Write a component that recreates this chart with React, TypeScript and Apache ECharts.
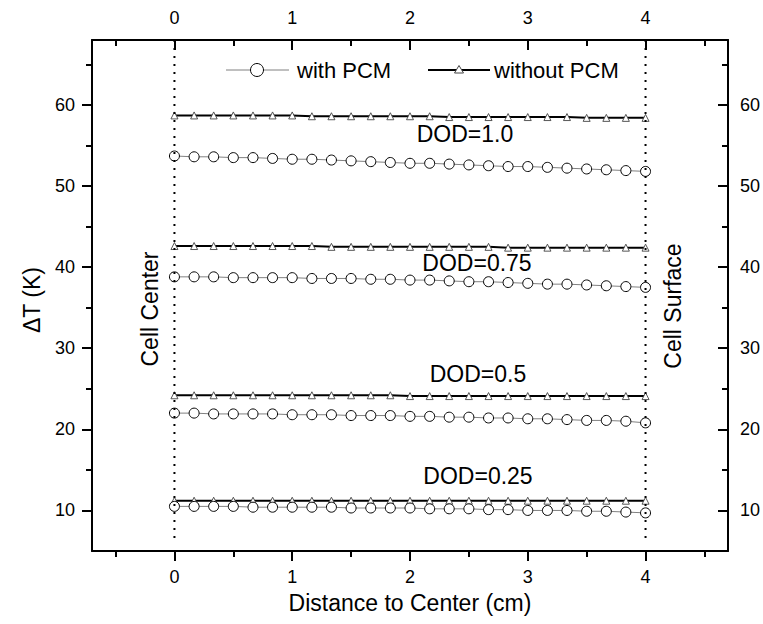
import { useEffect, useRef } from "react";
import * as echarts from "echarts";

const distance = [0, 0.167, 0.333, 0.5, 0.667, 0.833, 1, 1.167, 1.333, 1.5, 1.667, 1.833, 2, 2.167, 2.333, 2.5, 2.667, 2.833, 3, 3.167, 3.333, 3.5, 3.667, 3.833, 4];

const withPCM_100 = [53.7, 53.6, 53.6, 53.5, 53.5, 53.4, 53.3, 53.3, 53.2, 53.1, 53.0, 52.9, 52.8, 52.8, 52.7, 52.6, 52.5, 52.4, 52.4, 52.3, 52.2, 52.1, 52.0, 51.9, 51.8];
const withoutPCM_100 = [58.7, 58.7, 58.7, 58.7, 58.7, 58.7, 58.7, 58.6, 58.6, 58.6, 58.6, 58.6, 58.6, 58.6, 58.5, 58.5, 58.5, 58.5, 58.5, 58.5, 58.5, 58.4, 58.4, 58.4, 58.4];
const withPCM_075 = [38.8, 38.8, 38.8, 38.7, 38.7, 38.7, 38.7, 38.6, 38.6, 38.6, 38.5, 38.5, 38.4, 38.4, 38.3, 38.2, 38.2, 38.1, 38.0, 37.9, 37.9, 37.8, 37.7, 37.6, 37.5];
const withoutPCM_075 = [42.6, 42.6, 42.6, 42.6, 42.6, 42.6, 42.6, 42.6, 42.5, 42.5, 42.5, 42.5, 42.5, 42.5, 42.5, 42.5, 42.5, 42.4, 42.4, 42.4, 42.4, 42.4, 42.4, 42.4, 42.4];
const withPCM_050 = [22.0, 22.0, 21.9, 21.9, 21.9, 21.9, 21.8, 21.8, 21.8, 21.7, 21.7, 21.7, 21.6, 21.6, 21.5, 21.5, 21.4, 21.4, 21.3, 21.3, 21.2, 21.1, 21.1, 21.0, 20.8];
const withoutPCM_050 = [24.2, 24.2, 24.2, 24.2, 24.2, 24.2, 24.2, 24.2, 24.2, 24.2, 24.2, 24.2, 24.1, 24.1, 24.1, 24.1, 24.1, 24.1, 24.1, 24.1, 24.1, 24.1, 24.1, 24.1, 24.1];
const withPCM_025 = [10.5, 10.5, 10.5, 10.5, 10.4, 10.4, 10.4, 10.4, 10.4, 10.3, 10.3, 10.3, 10.3, 10.2, 10.2, 10.2, 10.1, 10.1, 10.0, 10.0, 10.0, 9.9, 9.9, 9.8, 9.7];
const withoutPCM_025 = [11.2, 11.2, 11.2, 11.2, 11.2, 11.2, 11.2, 11.2, 11.2, 11.2, 11.2, 11.2, 11.2, 11.2, 11.2, 11.2, 11.2, 11.2, 11.2, 11.2, 11.2, 11.2, 11.2, 11.2, 11.2];

const withSeries = [withPCM_100, withPCM_075, withPCM_050, withPCM_025];
const withoutSeries = [withoutPCM_100, withoutPCM_075, withoutPCM_050, withoutPCM_025];

const dodLabels = ["DOD=1.0", "DOD=0.75", "DOD=0.5", "DOD=0.25"];
const boundaryX = [0, 4];
const boundaryY = [68, 6];

const xMin = -0.7;
const xMax = 4.7;
const yMin = 5;
const yMax = 68;
const xMajorTicks = [0, 1, 2, 3, 4];
const xMinorTicks = [-0.5, 0.5, 1.5, 2.5, 3.5, 4.5];
const yMajorTicks = [10, 20, 30, 40, 50, 60];
const yMinorTicks = [15, 25, 35, 45, 55, 65];

const FONT = "'Liberation Sans', Arial, Helvetica, sans-serif";

const pair = (ys: number[]) => distance.map((x, i) => [x, ys[i]]);

function makeX(position: "top" | "bottom", ticks: number[], major: boolean, inside: boolean, extra: any = {}) {
  return {
    type: "value",
    min: xMin,
    max: xMax,
    position,
    axisLine: { show: major, onZero: false, lineStyle: { color: "#000", width: 2 } },
    axisTick: { show: true, inside, customValues: ticks, length: major ? 10 : 6, lineStyle: { color: "#000", width: 2 } },
    axisLabel: major
      ? { show: true, customValues: ticks, color: "#000", fontSize: 18, fontFamily: FONT, margin: position === "bottom" ? 17 : 13 }
      : { show: false },
    splitLine: { show: false },
    ...extra,
  };
}

function makeY(position: "left" | "right", ticks: number[], major: boolean, inside: boolean) {
  return {
    type: "value",
    min: yMin,
    max: yMax,
    position,
    axisLine: { show: major, onZero: false, lineStyle: { color: "#000", width: 2 } },
    axisTick: { show: true, inside, customValues: ticks, length: major ? 10 : 6, lineStyle: { color: "#000", width: 2 } },
    axisLabel: major
      ? { show: true, customValues: ticks, color: "#000", fontSize: 18, fontFamily: FONT, margin: position === "left" ? 17 : 12 }
      : { show: false },
    splitLine: { show: false },
  };
}

export default function App() {
  const ref = useRef<HTMLDivElement>(null);

  useEffect(() => {
    if (!ref.current) return;
    const chart = echarts.init(ref.current, null, { renderer: "svg" });

    const series: any[] = [];
    withoutSeries.forEach((ys) => {
      series.push({
        name: "without PCM",
        type: "line",
        data: pair(ys),
        symbol: "triangle",
        symbolSize: 7,
        showAllSymbol: true,
        itemStyle: { color: "#fff", borderColor: "#444", borderWidth: 0.9 },
        lineStyle: { color: "#000", width: 2 },
        z: 3,
        silent: true,
      });
    });
    withSeries.forEach((ys) => {
      series.push({
        name: "with PCM",
        type: "line",
        data: pair(ys),
        symbol: "circle",
        symbolSize: 10,
        showAllSymbol: true,
        itemStyle: { color: "#fff", borderColor: "#000", borderWidth: 1 },
        lineStyle: { color: "#808080", width: 1 },
        z: 4,
        silent: true,
      });
    });
    boundaryX.forEach((bx) => {
      series.push({
        type: "line",
        data: boundaryY.map((by) => [bx, by]),
        symbol: "none",
        lineStyle: { color: "#000", width: 2, type: [2, 6] },
        z: 6,
        silent: true,
      });
    });

    const dodPos = [
      [465, 134],
      [477, 263],
      [478, 374],
      [478, 476],
    ];

    const graphic: any[] = [
      // legend
      { type: "line", shape: { x1: 226, y1: 70, x2: 289, y2: 70 }, style: { stroke: "#808080", lineWidth: 1 } },
      { type: "circle", shape: { cx: 257, cy: 70, r: 6.5 }, style: { fill: "#fff", stroke: "#000", lineWidth: 1 } },
      { type: "text", x: 297, y: 70, style: { text: "with PCM", font: `22px ${FONT}`, fill: "#000", textVerticalAlign: "middle", textAlign: "left" } },
      { type: "line", shape: { x1: 428, y1: 70, x2: 490, y2: 70 }, style: { stroke: "#000", lineWidth: 2 } },
      { type: "polygon", shape: { points: [[459, 65.5], [463.5, 73], [454.5, 73]] }, style: { fill: "#fff", stroke: "#444", lineWidth: 1 } },
      { type: "text", x: 494, y: 70, style: { text: "without PCM", font: `22px ${FONT}`, fill: "#000", textVerticalAlign: "middle", textAlign: "left" } },
      // side labels
      { type: "text", x: 150, y: 309, rotation: Math.PI / 2, style: { text: "Cell Center", font: `23px ${FONT}`, fill: "#000", textAlign: "center", textVerticalAlign: "middle" } },
      { type: "text", x: 673, y: 306, rotation: Math.PI / 2, style: { text: "Cell Surface", font: `23px ${FONT}`, fill: "#000", textAlign: "center", textVerticalAlign: "middle" } },
      { type: "text", x: 32, y: 300, rotation: Math.PI / 2, style: { text: "ΔT (K)", font: `23px ${FONT}`, fill: "#000", textAlign: "center", textVerticalAlign: "middle" } },
    ];
    dodLabels.forEach((t, i) => {
      graphic.push({
        type: "text",
        x: dodPos[i][0],
        y: dodPos[i][1],
        style: { text: t, font: `23px ${FONT}`, fill: "#000", textAlign: "center", textVerticalAlign: "middle" },
        z: 10,
      });
    });

    chart.setOption({
      animation: false,
      backgroundColor: "#fff",
      grid: { left: 92, top: 40, width: 636, height: 511, containLabel: false },
      xAxis: [
        makeX("bottom", xMajorTicks, true, false, {
          name: "Distance to Center (cm)",
          nameLocation: "middle",
          nameGap: 40,
          nameTextStyle: { color: "#000", fontSize: 23, fontFamily: FONT },
        }),
        makeX("bottom", xMinorTicks, false, false),
        makeX("top", xMajorTicks, true, true),
        makeX("top", xMinorTicks, false, true),
      ],
      yAxis: [
        makeY("left", yMajorTicks, true, false),
        makeY("left", yMinorTicks, false, false),
        makeY("right", yMajorTicks, true, true),
        makeY("right", yMinorTicks, false, true),
      ],
      series,
      graphic,
    });

    return () => chart.dispose();
  }, []);

  return (
    <div
      ref={ref}
      style={{ position: "fixed", left: 0, top: 0, width: 763, height: 624, background: "#fff" }}
    />
  );
}
